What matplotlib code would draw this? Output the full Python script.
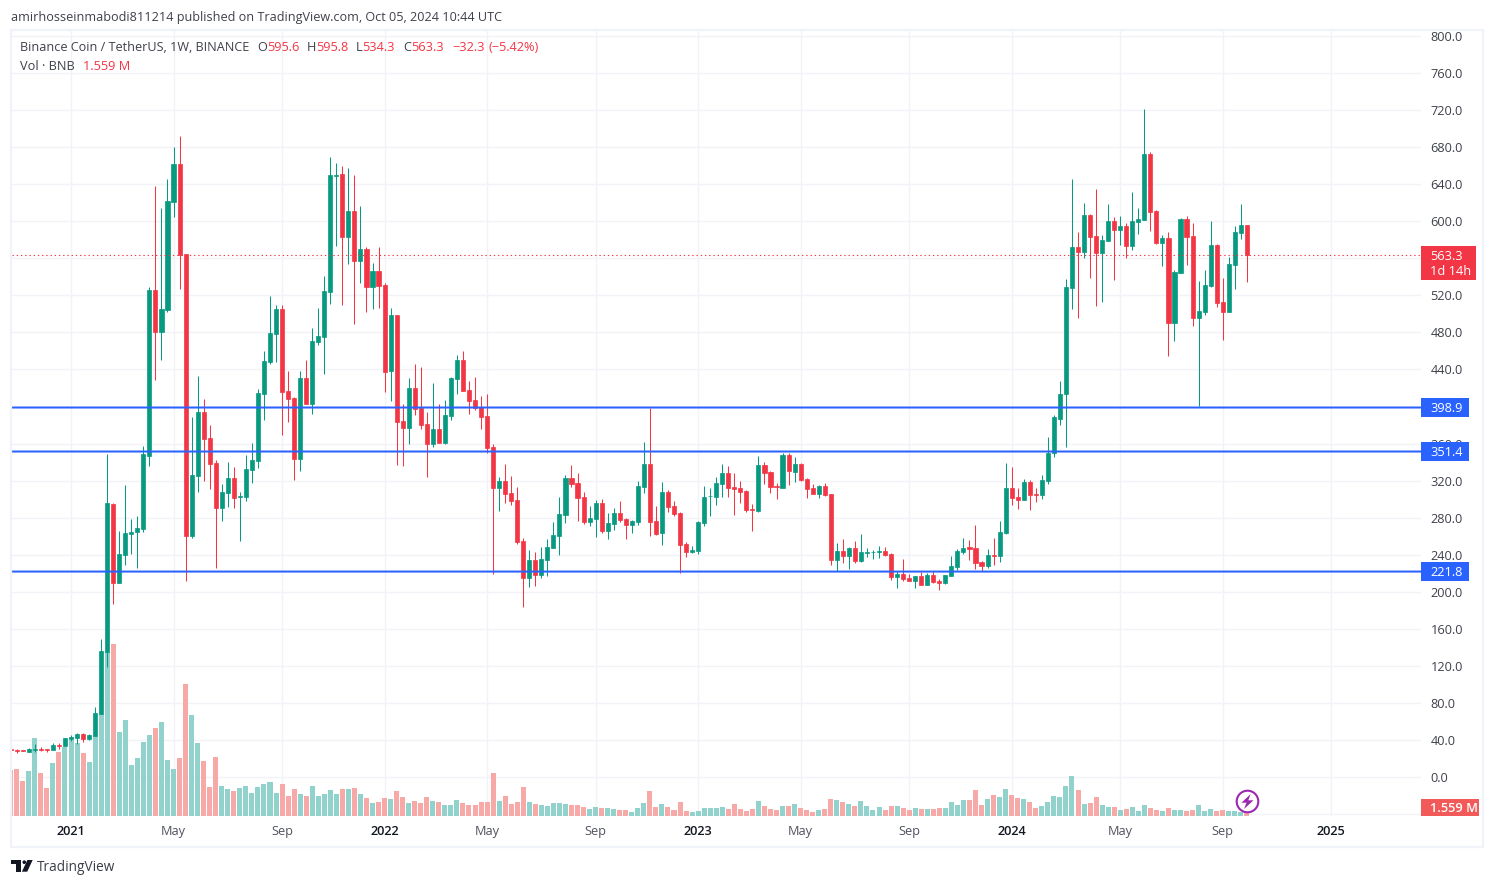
import matplotlib
matplotlib.use("Agg")
import matplotlib.pyplot as plt
from matplotlib.patches import Rectangle, Polygon, Circle

opens = [30.5,28.8,28.8,27,29.5,30.5,30,29,35,33.3,
41,42,46.3,41,44,68,135,295,209,240,
262,264,268,347,526,480,504,621,662,564.6,
260,325,394,366,339,290,306.6,322.8,302.6,302,
331.4,341,413.4,448,478,505,416.6,409,343,430.7,
402.6,469.5,475,523.5,649,651,583,611,557,570,
529,546,531,438,498.7,384,376.7,420,398,381,
359.4,375.6,360.5,389.6,429.6,450,417.7,406.9,399.3,389.6,
356,312,319.5,306.6,299,254.7,214.8,234,218,234,
247,260,283,322.8,317,302,275,278.5,295.8,265.5,
273,285,278.5,272,275,313,337.9,276,263,307.6,
292.5,285,251.5,242.8,244,274,303,302,316,328,
313,312,308.7,289,287,336.8,329,314,312,347.6,
329,337.9,321.7,312,305.5,314,305.5,234,243.9,238.5,
247,233,242.3,242.8,243.4,244,240.7,215.8,219,214.8,
211.5,217,207,218,211.5,209.4,217,226.6,243,248,
247,231.9,227.7,240,238.5,263.4,312,302,299,318.4,
305,304.4,319.5,350,387,413,527.9,572,566.7,606.7,
584,565.7,578.6,600,590.5,594.8,573,599,601.3,672.6,
611,576.5,581.9,490,544,602.4,584,495.5,502,530,
574.3,512.7,502,552.7,587,595.6]
closes = [29.5,28,28.2,30,30,29.5,29,34.4,34,42,
43,46.3,41,45,69,136,296,209,241,263,
264,269,349,526,480.3,505,622,662,563.5,260,
326,394,365,338,290,307.6,322.8,301,303.3,332.5,
342,414.5,449,479,505,415.5,408,343,430.7,402.6,
470.6,476,524.6,650,650,583,611,557,570,529,
546,530,437,498.7,383,376.7,420,397,380,359.4,
375.6,360.5,390.7,430.7,450,416.6,405.8,398,388.5,355,
311.9,319.5,305.5,298,253.6,214.8,234,218,235,248,
261,284,322.8,316,301,275,279.6,295.8,265.5,274,
285,277.4,272,276.3,314,337.9,275,262,307.6,291.4,
284,250.4,242.8,245,275,302,303.5,317.4,328,312,
311,307.6,288,288.5,336.8,328,313,313.5,347.6,330.3,
337.9,320.6,310.9,305.5,314,304.4,234,243.9,238.5,247,
233,242.8,242.9,243.3,244,239.6,215.8,219,213.7,211.5,
217,207,218,210.4,209.4,218,227.7,243.9,247,246,
231,227.7,239.6,239,264.4,312,301,299,318.4,304.4,
304,320.6,349.8,388.5,414,529,572,566.7,606.7,583,
565.7,579.7,600,590.5,594.8,573,600,602.4,672.6,610,
576.5,581.9,490,545,602.4,583,495.5,503,531,574.3,
511.7,502,553.8,588.3,595.9,563.3]
highs = [31,30,29,31,35.5,32,30,36.6,37,42,
45,47.4,47.4,46,75.4,149,349,296,265.5,315,
278.5,282,357,529,638,614,645.6,680,692,565,
388.5,433,408,380,342,316,340,334.6,307.6,347.6,
360.6,419,460,519,509.5,509.5,438,410,438,450,
484.7,506,540.8,669,663,659.6,657.5,650,616.4,572,
555,572,533,506,498.7,402.6,430.7,445.8,442.5,394,
425,402.6,407,431.7,455.5,460,427.4,431.7,411,413.4,
359.4,323.8,338,325,313,258,245,242.8,248,257,
275,302,326,336.8,328,307.6,292.5,299,300,285,
290.4,298,279.6,277.4,319.5,361.6,398.4,292.5,318.4,309.8,
298,286,253.6,249,276.3,314,312,323.8,338,335.7,
328,319.5,309.4,294.7,346.5,340,330,317.4,349.8,349.8,
345.4,339,322.8,316.3,315,317.4,305.5,252.6,256.9,248,
254.7,262,247,245,249.3,248,241.8,222.3,235.3,219,
217,221,220,222.3,213.7,218,238.5,246,258,255.8,
272,233,246,258,276.3,339,334.6,312,321.7,320.6,
312,326,367,390.7,427.4,537.6,645.6,588.3,619.7,607.8,
634.8,585,618.6,604.5,605.6,598,631.5,614,721,674.7,
612,585,588.3,547.3,603.5,605.6,598,535.4,547.3,600,
575.4,538.7,561.3,594.8,618.6,595.8]
lows = [29,26,28,26.5,27,28.6,27,29,30,33.3,
39,35.5,37.6,40,44,68,119,187,209,229,
241,225.6,264,336,428.5,450,502,604.5,527,211.5,
258,307.6,319.5,311,225.6,276,291,290,254.7,298,
317.4,333.6,385,446,448,369,383,320.5,330,402.6,
391.8,466,435,510.6,573,509.5,553.8,489,533,502,
505,506,415.5,405.8,336.7,335.6,359.4,390.7,375.6,323.8,
356,360.5,359.4,385,413.4,416.6,391.8,396,375.6,349.7,
219,287,295.8,293.6,251.5,183.4,205,206,214.8,217,
247,239.6,274,313,276.3,273,271,259,263,257,
266.6,275,257,263,272,306.6,260,261,250.4,286,
281.7,220,237.4,241.8,240.7,271,281.7,293.6,302,302,
282.8,295.8,286.4,265.5,286,316,306.6,300,312,315,
318.4,319.5,301,305.5,301,303,228.8,222.3,231,224.5,
231,232,237.4,235.3,236.4,238.5,212.6,204,211.5,211.5,
204,207,207,209,201.8,208,217,223.4,240.7,234,
224.5,222.3,225.6,228.8,232,262,293.6,289.3,299,288,
296.8,300,316,345,380,356,505,495.5,560,538.7,
508.4,512.7,578.6,536.5,574,560,568.9,586,601.3,589.4,
575.4,551.6,454.4,470.6,544,552.7,486.8,400.4,498.7,529,
507.3,471.7,502,526.8,580.8,534.3]
volumes_m = [27.6,28.2,21,27,46.8,25.8,16.8,31.8,38.4,41.4,
45.6,43.8,37.8,32.4,48,61.2,98.4,103.2,50.4,57.6,
30.6,34.8,44.4,48.6,52.8,56.4,33.6,28.2,34.8,79.2,
60.6,43.8,33,17.4,35.4,18,16.2,15,16.8,18,
13.8,17.4,19.2,20.4,13.8,19.2,12,16.2,13.2,12,
18,12,13.2,15.6,13.2,16.2,16.2,16.8,13.2,10.8,
7.8,8.4,10.8,10.2,15,11.4,7.8,9,7.8,11.4,
9,8.4,6.6,6.6,9.6,7.8,6.6,6.6,8.4,8.4,
25.8,9,12,7.2,8.4,17.4,8.4,7.2,6.6,6,
7.8,7.8,7.2,6.6,6.6,5.4,4.2,5.4,4.8,4.8,
4.2,3.6,3.6,2.4,4.8,7.8,15,5.4,7.2,5.4,
3.6,8.4,3,2.4,3,4.8,4.8,4.8,5.4,4.2,
7.2,4.2,3,4.2,9,6,4.2,3.6,6,6,
7.2,4.8,3.6,2.4,3.6,4.2,10.2,9.6,8.4,7.2,
6,9,6,3.6,5.4,3.6,6,6,4.8,3.6,
4.8,4.2,4.2,4.2,4.8,4.8,8.4,6.6,9.6,9.6,
15.6,6.6,10.2,12.6,11.4,16.2,12.6,10.8,10.2,8.4,
4.8,6,8.4,12,11.4,18,24,15.6,7.2,7.8,
11.4,6.6,5.4,5.4,3.6,4.2,5.4,3,6.6,4.8,
3.6,3,4.8,3.6,3.6,3,3.6,6.6,3,4.2,
3,3.6,3,3,2.4,1.559]
levels = [398.9, 351.4, 221.8]
last_price = 563.3
time_tick_idx = [10,27,45,62,79,97,114,131,149,166,184,201,219]
time_tick_lab = ['2021','May','Sep','2022','May','Sep','2023','May','Sep','2024','May','Sep','2025']
price_ticks = list(range(-40, 801, 40))

UP, DOWN = '#089981', '#F23645'
VUP, VDN = '#92D2CC', '#F7A9A7'
BLUE = '#2962FF'
GRID = '#F1F3F8'
TXT = '#3E414A'
W, H = 1494, 886
FONT = 'Open Sans'
plt.rcParams['font.family'] = [FONT, 'DejaVu Sans']

fx = lambda x: x / W
fy = lambda y: 1 - y / H

fig = plt.figure(figsize=(W / 100, H / 100), dpi=100, facecolor='white')
pos = [fx(11.5), fy(816), (1420.5 - 11.5) / W, (816 - 31) / H]
XLIM = (0.13, 233.8)
PLIM = (-42.1, 805.4)

ax = fig.add_axes(pos, zorder=0)
ax.set_xlim(*XLIM); ax.set_ylim(*PLIM)
ax.yaxis.tick_right()
ax.set_yticks(price_ticks)
ax.set_yticklabels(['' if v < 0 else f'{v:.1f}' for v in price_ticks], fontsize=9.2, color=TXT)
ax.set_xticks(time_tick_idx)
ax.set_xticklabels(time_tick_lab, fontsize=9.2, color='#50535E')
for lab in ax.get_xticklabels():
    if lab.get_text().isdigit():
        lab.set_color('#131722'); lab.set_fontweight('semibold')
ax.tick_params(axis='y', length=0, pad=7.2)
ax.tick_params(axis='x', length=0, pad=6.7)
ax.grid(True, color=GRID, lw=1.0)
ax.set_axisbelow(True)
for s in ax.spines.values():
    s.set_visible(False)

n = len(closes)
xs = list(range(n))
up = [closes[i] >= opens[i] for i in xs]

vax = fig.add_axes(pos, zorder=1, facecolor='none')
vax.set_xlim(*XLIM); vax.set_ylim(0, 471)
vax.bar(xs, volumes_m, width=0.83, linewidth=0,
        color=[VUP if u else VDN for u in up])
vax.axis('off')

cax = fig.add_axes(pos, zorder=2, facecolor='none')
cax.set_xlim(*XLIM); cax.set_ylim(*PLIM)
cols = [UP if u else DOWN for u in up]
cax.vlines(xs, lows, highs, colors=cols, lw=0.75, zorder=2)
cax.bar(xs, [abs(c - o) for c, o in zip(closes, opens)],
        bottom=[min(c, o) for c, o in zip(closes, opens)],
        width=0.68, color=cols, edgecolor=cols, linewidth=0.5, zorder=3)
cax.axhline(last_price, color=DOWN, lw=0.8, dashes=(1.2, 2.6), zorder=4)
for lv in levels:
    cax.axhline(lv, color=BLUE, lw=1.45, zorder=5, snap=False)
cax.axis('off')


def px_rect(x0, y0, x1, y1, **kw):
    r = Rectangle((fx(x0), fy(y1)), (x1 - x0) / W, (y1 - y0) / H,
                  transform=fig.transFigure, **kw)
    fig.add_artist(r)
    return r


def px_text(x, y, s, **kw):
    kw.setdefault('va', 'center')
    kw.setdefault('fontsize', 9.2)
    kw.setdefault('color', TXT)
    return fig.text(fx(x), fy(y + 1.2), s, zorder=12, **kw)


# pane border
px_rect(11, 30, 1483, 847, fill=False, edgecolor='#F0F3FA', lw=1.6, zorder=5)

# price labels
px_rect(1421, 246, 1475.5, 280, facecolor=DOWN, edgecolor='none', zorder=8)
px_text(1430.5, 255.5, f'{last_price:.1f}', color='white')
px_text(1430.5, 270.5, '1d 14h', color='white')
for lv in levels:
    yc = 777 - lv * 0.92625
    px_rect(1421, yc - 9.5, 1468.5, yc + 9.5, facecolor=BLUE, edgecolor='none', zorder=8)
    px_text(1430.5, yc, f'{lv:.1f}', color='white')
px_rect(1421, 799, 1479, 815.5, facecolor='#F25A5A', edgecolor='none', zorder=8)
px_text(1430.5, 807, '1.559 M', color='white', fontweight='semibold')

# header
px_text(11, 16, 'amirhosseinmabodi811214 published on TradingView.com, Oct 05, 2024 10:44 UTC', fontsize=9.05)
px_text(20, 46, 'Binance Coin / TetherUS, 1W, BINANCE', fontsize=9.1)
for x, s, c in [(257, 'O', TXT), (267, '595.6', DOWN), (307, 'H', TXT), (316, '595.8', DOWN),
                (356, 'L', TXT), (362.5, '534.3', DOWN), (403, 'C', TXT), (411, '563.3', DOWN),
                (452, '\u221232.3', DOWN), (488.6, '(\u22125.42%)', DOWN)]:
    px_text(x, 46, s, color=c)
px_text(20, 65, 'Vol \u00b7 BNB')
px_text(83, 65, '1.559 M', color=DOWN)

# TradingView logo
for pts in ([(11, 860), (21, 860), (21, 871.7), (15.7, 871.7), (15.7, 863.7), (11, 863.7)],
            [(32.7, 860), (27.2, 871.7), (21.9, 871.7), (27.4, 860)]):
    fig.add_artist(Polygon([(fx(a), fy(b)) for a, b in pts], closed=True,
                           transform=fig.transFigure, facecolor='#131722', edgecolor='none', zorder=8))
fig.add_artist(Polygon([(fx(22.5 + dx), fy(860.4 + dy)) for dx, dy in
                        [(0, 1), (1, 0), (2.5, 0), (3.5, 1), (3.5, 2.5), (2.5, 3.6), (1, 3.6), (0, 2.5)]],
                       closed=True, transform=fig.transFigure, facecolor='#131722', edgecolor='none', zorder=8))
px_text(37, 866.5, 'TradingView', fontsize=9.8, color='#3A3D46')

# lightning icon
cx_, cy_ = 1247.5, 801.5
icon = fig.add_axes([fx(cx_ - 14), fy(cy_ + 14), 28 / W, 28 / H], zorder=9, facecolor='none')
icon.set_xlim(-14, 14); icon.set_ylim(14, -14); icon.axis('off')
icon.add_patch(Circle((0, 0), 10.8, facecolor='white', edgecolor='#9C27B0', lw=1.5))
icon.add_patch(Polygon([(3.2, -7.5), (-6, 1.2), (-1, 1.2), (-3.5, 7.5), (6, -1.2), (0.8, -1.2)],
                       closed=True, facecolor='#9C27B0', edgecolor='none'))

fig.savefig('out.png', dpi=100, facecolor='white')
